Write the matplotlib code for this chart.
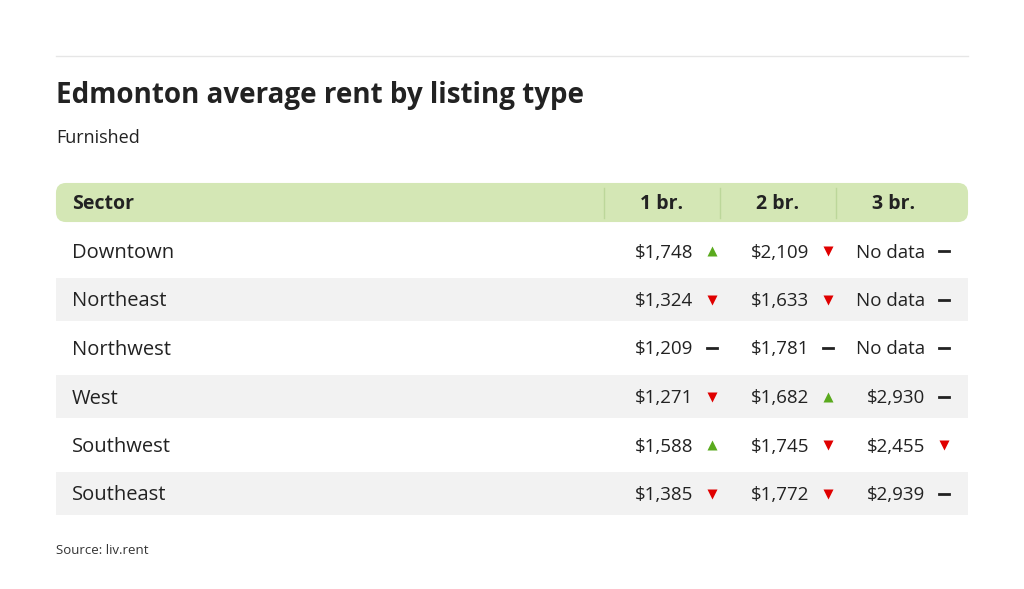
import matplotlib
matplotlib.use("Agg")
import matplotlib.pyplot as plt
from matplotlib.patches import FancyBboxPatch, Rectangle

sectors = ["Downtown", "Northeast", "Northwest", "West", "Southwest", "Southeast"]
columns = ["1 br.", "2 br.", "3 br."]
rent_1br = ["$1,748", "$1,324", "$1,209", "$1,271", "$1,588", "$1,385"]
rent_2br = ["$2,109", "$1,633", "$1,781", "$1,682", "$1,745", "$1,772"]
rent_3br = ["No data", "No data", "No data", "$2,930", "$2,455", "$2,939"]
trend_1br = ["up", "down", "flat", "down", "up", "down"]
trend_2br = ["down", "down", "flat", "up", "down", "down"]
trend_3br = ["flat", "flat", "flat", "flat", "down", "flat"]

FONT = "Open Sans"
fig = plt.figure(figsize=(10.24, 5.89), dpi=100)
ax = fig.add_axes([0, 0, 1, 1])
ax.set_xlim(0, 1024)
ax.set_ylim(589, 0)
ax.axis("off")

ax.plot([56, 968], [56, 56], color="#e6e6e6", lw=1)
ax.text(56, 96, "Edmonton average rent by listing type", fontsize=20, fontweight="bold",
        family=FONT, color="#222222", va="center")
ax.text(56, 138, "Furnished", fontsize=13, family=FONT, color="#222222", va="center")

ax.add_patch(FancyBboxPatch((57, 184), 910, 37, boxstyle="round,pad=0,rounding_size=9",
                            fc="#d4e7b5", ec="#d4e7b5", lw=1.5))
ax.text(72, 204, "Sector", fontsize=14, fontweight="bold", family=FONT, color="#222222", va="center")
col_right = [686, 802, 918]
for i, c in enumerate(columns):
    ax.text(col_right[i] - 24, 204, c, fontsize=14, fontweight="bold", family=FONT,
            color="#222222", va="center", ha="center")
for x in [604, 720, 836]:
    ax.plot([x, x], [188, 218], color="#bcd79a", lw=1)

row_h = 48.5
vals = [rent_1br, rent_2br, rent_3br]
trends = [trend_1br, trend_2br, trend_3br]
val_right = [693, 809, 925]
ind_x = [712, 828, 944]
for r, s in enumerate(sectors):
    yc = 251 + r * row_h
    if r % 2 == 1:
        ax.add_patch(Rectangle((56, yc - row_h / 2 + 3), 912, row_h - 6, fc="#f2f2f2", ec="none"))
    ax.text(72, yc + 2, s, fontsize=14.5, family=FONT, color="#222222", va="center")
    for c in range(3):
        ax.text(val_right[c], yc + 1.5, vals[c][r], fontsize=13.5, family=FONT, color="#222222",
                va="center", ha="right")
        t = trends[c][r]
        x = ind_x[c]
        if t == "up":
            ax.plot(x, yc, marker="^", ms=7.5, color="#5aaa1e", mec="none")
        elif t == "down":
            ax.plot(x, yc, marker="v", ms=7.5, color="#e00000", mec="none")
        else:
            ax.plot([x - 5, x + 5], [yc, yc], color="#222222", lw=2)

ax.text(56, 551, "Source: liv.rent", fontsize=9.5, family=FONT, color="#333333", va="center")
fig.savefig("out.png", dpi=100, facecolor="white")
